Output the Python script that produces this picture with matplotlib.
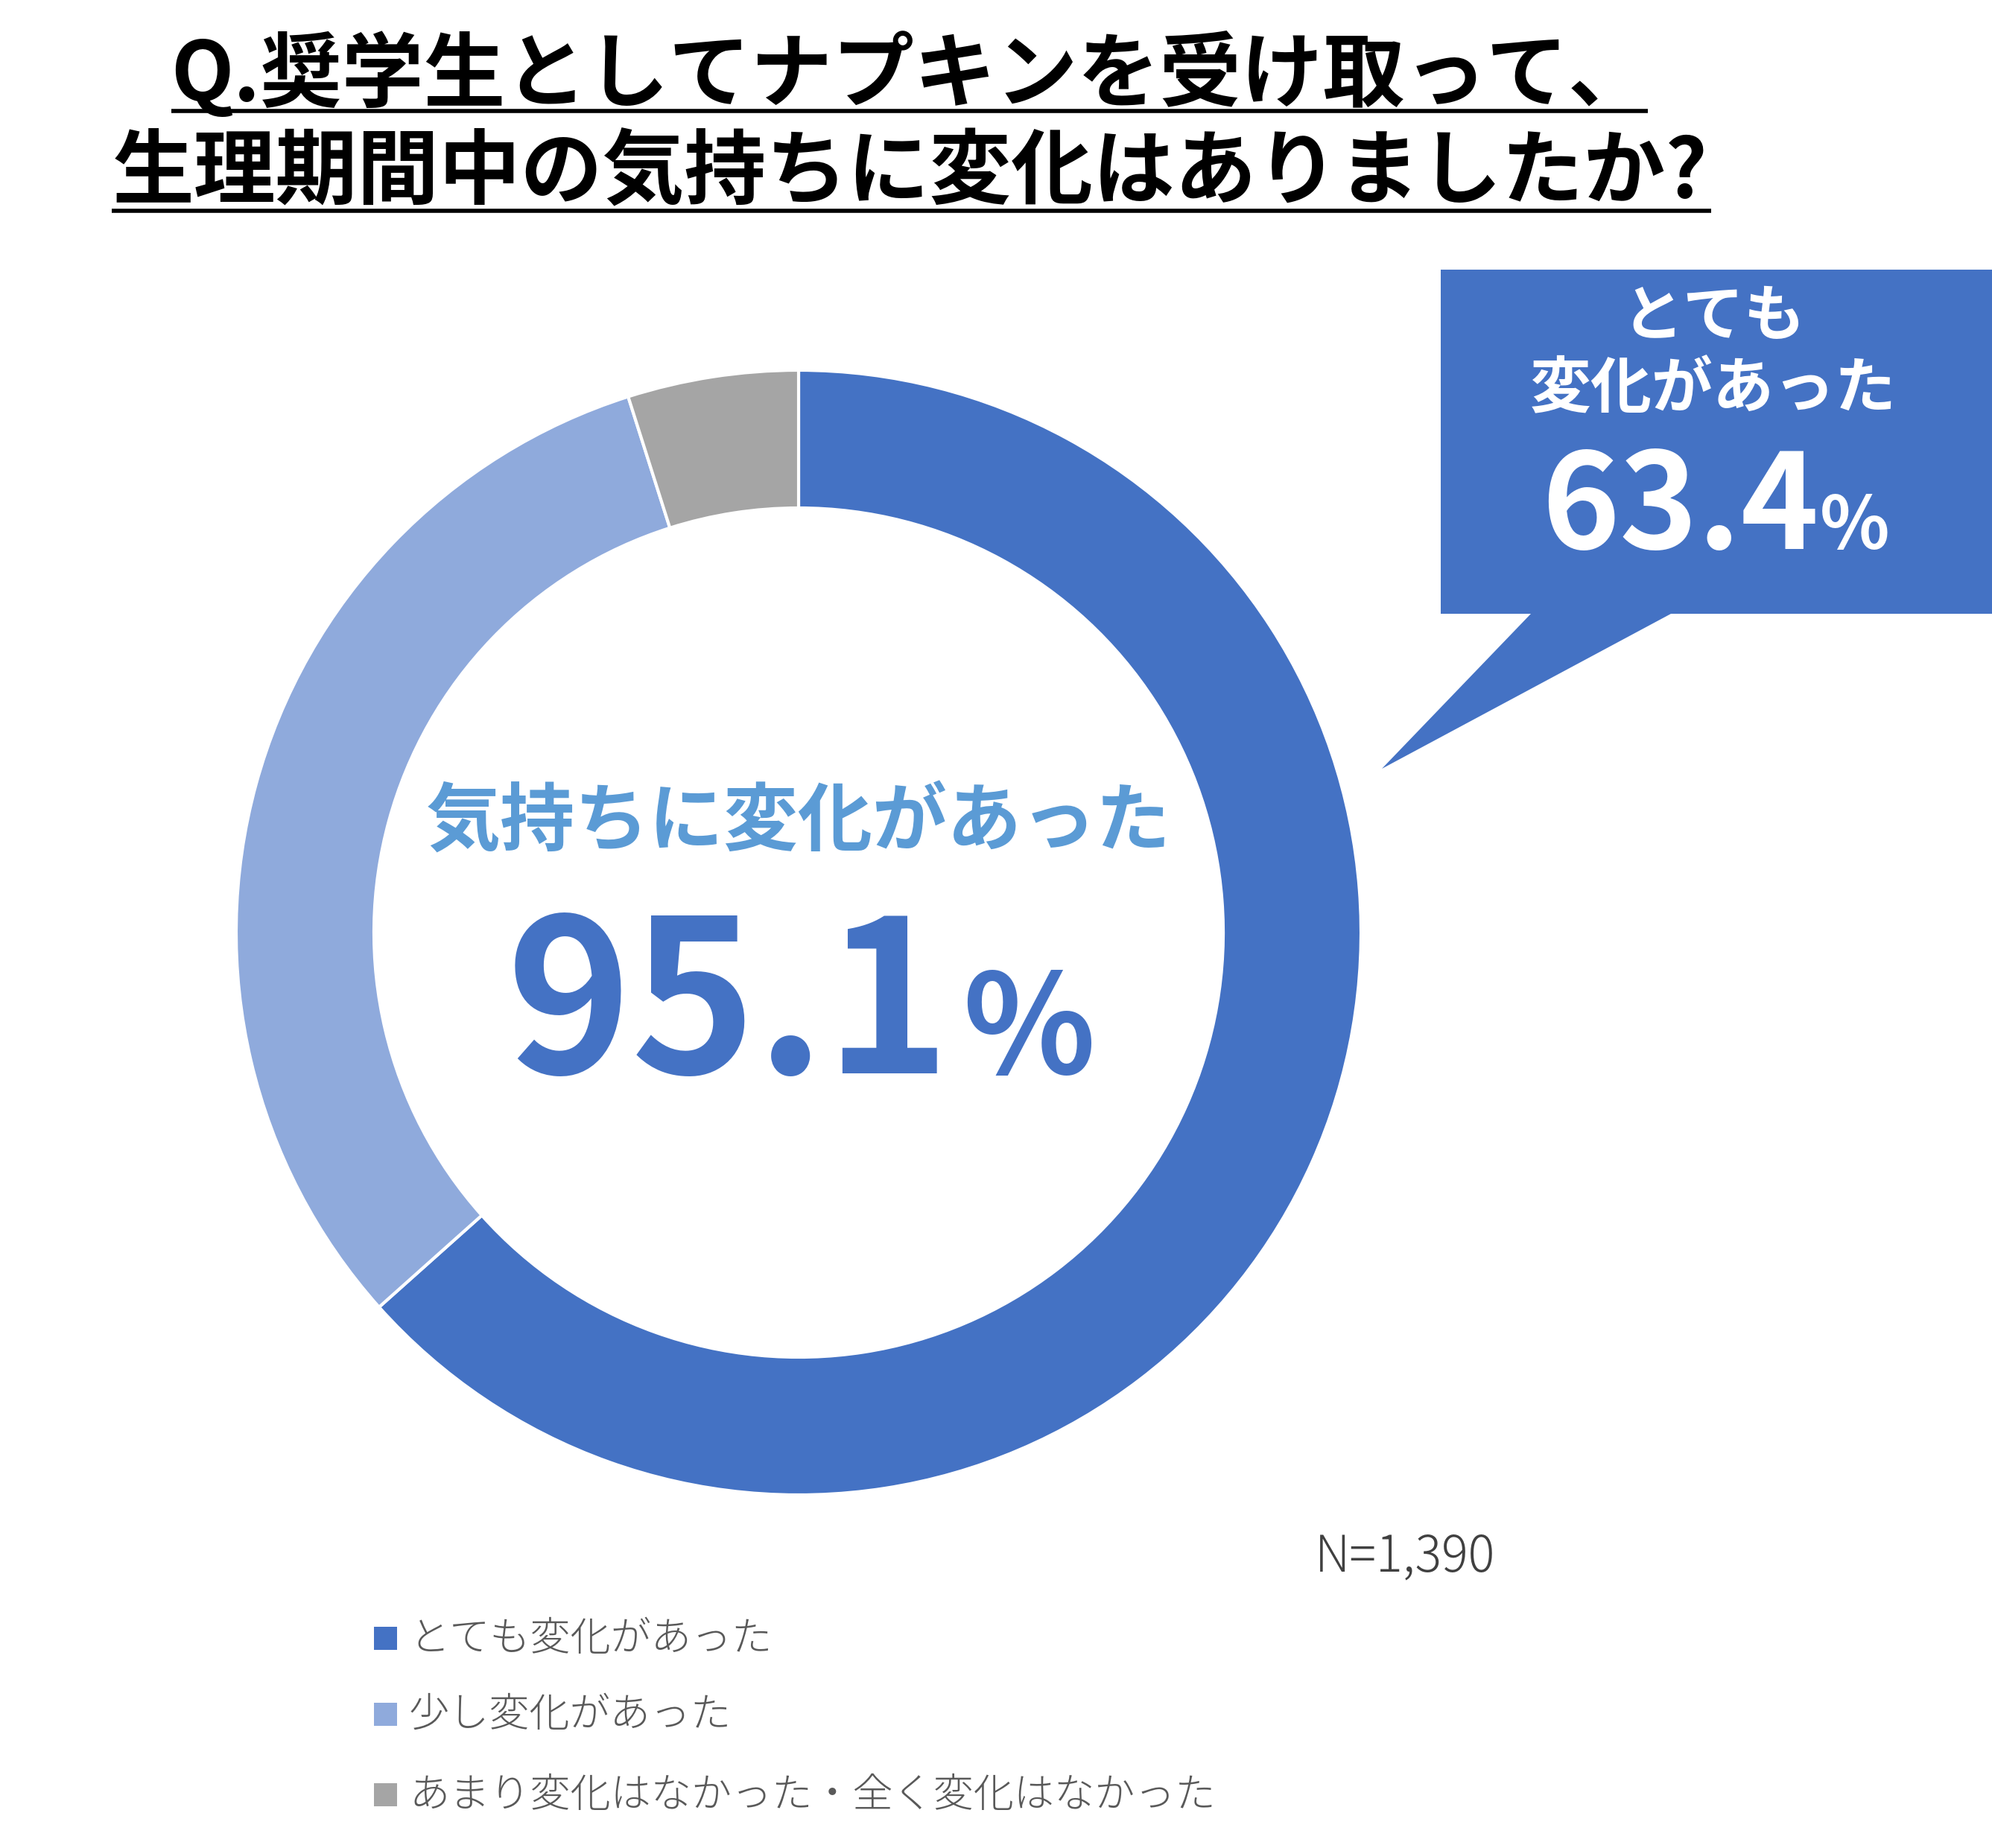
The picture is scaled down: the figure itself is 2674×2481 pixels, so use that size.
import matplotlib.pyplot as plt
from matplotlib.patches import Polygon, Rectangle

plt.rcParams['font.family'] = ['Noto Sans CJK JP', 'DejaVu Sans']

# --- Data ---
labels = ["とても変化があった", "少し変化があった", "あまり変化はなかった・全く変化はなかった"]
values = [63.4, 31.7, 4.9]
colors = ["#4472C4", "#8FAADC", "#A5A5A5"]
title_lines = ["Q.奨学生としてナプキンを受け取って、", "生理期間中の気持ちに変化はありましたか?"]
center_label = "気持ちに変化があった"
center_value = "95.1"
callout_label = ["とても", "変化があった"]
callout_value = "63.4"
n_text = "N=1,390"

W, H = 2674, 2481
fig = plt.figure(figsize=(W / 100, H / 100), dpi=100)

# background axes in pixel coordinates
bg = fig.add_axes([0, 0, 1, 1])
bg.set_xlim(0, W)
bg.set_ylim(H, 0)
bg.axis("off")

# --- Title with underlines ---
bg.text(1222, 101, title_lines[0], fontsize=79, fontweight="bold", ha="center", va="center")
bg.plot([230, 2212], [149, 149], color="black", lw=4, solid_capstyle="butt")
bg.text(1222, 234, title_lines[1], fontsize=79, fontweight="bold", ha="center", va="center")
bg.plot([150, 2297], [283, 283], color="black", lw=4, solid_capstyle="butt")

# --- Callout box ---
callout = Polygon([(1934, 362), (W, 362), (W, 824), (2243, 824), (1855, 1032),
                   (2055, 824), (1934, 824)], closed=True, facecolor=colors[0],
                  edgecolor="none")
bg.add_patch(callout)
bg.text(2300, 426, callout_label[0], fontsize=59, fontweight="bold", color="white",
        ha="center", va="center")
bg.text(2300, 524, callout_label[1], fontsize=59, fontweight="bold", color="white",
        ha="center", va="center")
bg.text(2442, 737, callout_value, fontsize=128, fontweight="bold", color="white",
        ha="right", va="baseline")
bg.text(2443, 737, "%", fontsize=70, fontweight="bold", color="white",
        ha="left", va="baseline")

# --- Center text ---
bg.text(1072, 1105, center_label, fontsize=72, fontweight="bold", color="#5B9BD5",
        ha="center", va="center")
bg.text(1276, 1441, center_value, fontsize=205, fontweight="bold", color=colors[0],
        ha="right", va="baseline")
bg.text(1292, 1441, "%", fontsize=133, fontweight="bold", color=colors[0],
        ha="left", va="baseline")

# --- N ---
bg.text(1765, 2091, n_text, fontsize=48, fontweight="light", color="#404040",
        ha="left", va="center")

# --- Legend ---
leg_y = [2200, 2302, 2410]
for lab, c, y in zip(labels, colors, leg_y):
    bg.add_patch(Rectangle((502, y - 16), 31, 31, facecolor=c, edgecolor="none"))
    bg.text(549, y, lab, fontsize=39, fontweight="light", color="#595959",
            ha="left", va="center")

# --- Donut ---
cx, cy, r = 1072, 1252, 755
pax = fig.add_axes([(cx - r) / W, (H - cy - r) / H, 2 * r / W, 2 * r / H])
pax.pie(values, colors=colors, startangle=90, counterclock=False,
        wedgeprops=dict(width=0.245, edgecolor="white", linewidth=3))
pax.set_xlim(-1, 1)
pax.set_ylim(-1, 1)
pax.set_facecolor("none")

fig.savefig("out.png", dpi=100)
